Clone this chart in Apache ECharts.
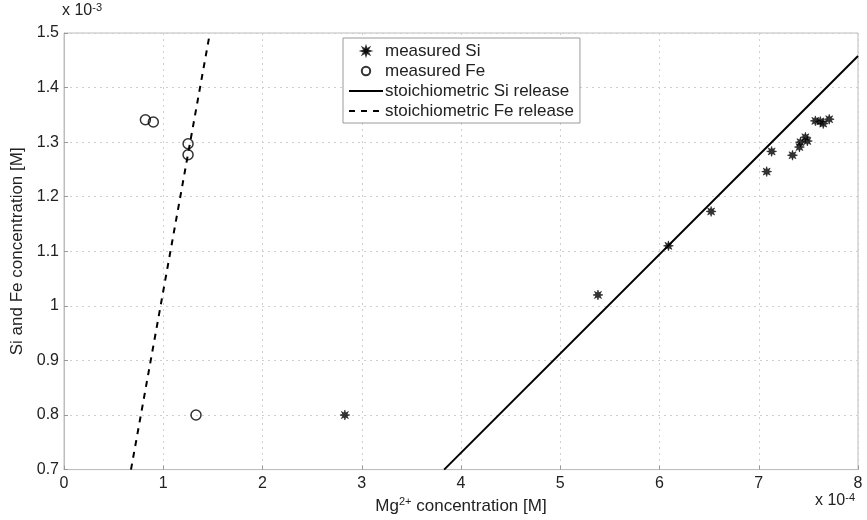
<!DOCTYPE html>
<html><head><meta charset="utf-8">
<script src="https://cdn.jsdelivr.net/npm/echarts@6/dist/echarts.min.js"></script>
<style>html,body{margin:0;padding:0;background:#fff}#c{width:867px;height:520px}</style>
</head><body><div id="c"></div>
<script>
// Data (x in units of 1e-4 M, y in units of 1e-3 M)
var siX = [2.83, 5.38, 6.09, 6.52, 7.08, 7.13, 7.34, 7.41, 7.42, 7.47, 7.49, 7.57, 7.62, 7.65, 7.71];
var siY = [0.80, 1.02, 1.11, 1.173, 1.246, 1.283, 1.276, 1.291, 1.300, 1.309, 1.302, 1.339, 1.338, 1.334, 1.342];
var feX = [0.82, 0.90, 1.25, 1.25, 1.33];
var feY = [1.341, 1.337, 1.297, 1.277, 0.80];
var siLineX = [3.83, 8.0];
var siLineY = [0.70, 1.458];
var feLineX = [0.675, 1.47];
var feLineY = [0.70, 1.50];
var xTicks = [0, 1, 2, 3, 4, 5, 6, 7, 8];
var yTicks = [0.7, 0.8, 0.9, 1.0, 1.1, 1.2, 1.3, 1.4, 1.5];

function zip(a, b) { return a.map(function (v, i) { return [v, b[i]]; }); }
function starPts(cx, cy, ro, ri) {
  var pts = [];
  for (var k = 0; k < 16; k++) {
    var ang = k * Math.PI / 8, r = (k % 2 === 0) ? ro : ri;
    pts.push((cx + r * Math.cos(ang)).toFixed(2) + ' ' + (cy + r * Math.sin(ang)).toFixed(2));
  }
  return 'M' + pts.join(' L') + ' Z';
}
var starPath = 'path://' + starPts(10, 10, 10, 4.6);
// legend icons: same shapes with empty margin (moveTo points enlarge the box)
var starLegend = 'path://M0 0 M20 20 ' + starPts(10, 10, 6.5, 3);
var circLegend = 'path://M0 0 M20 20 M17 10 A7 7 0 1 1 3 10 A7 7 0 1 1 17 10 Z';

var font = 'Liberation Sans, Arial, Helvetica, sans-serif';
var txt = '#222';
var chart = echarts.init(document.getElementById('c'));
chart.setOption({
  animation: false,
  textStyle: { fontFamily: font },
  grid: { left: 64, right: 9, top: 33, bottom: 49, show: true, borderColor: '#bdbdbd', borderWidth: 1 },
  legend: {
    left: 343, top: 38, orient: 'vertical', itemGap: 2, itemWidth: 34, itemHeight: 12,
    padding: [4, 6, 3, 5], symbolKeepAspect: true,
    borderColor: '#9a9a9a', borderWidth: 1, backgroundColor: '#fff',
    textStyle: { fontFamily: font, fontSize: 17, color: txt, lineHeight: 18, padding: [0, 0, 0, -3] },
    data: [
      { name: 'measured Si', icon: starLegend },
      { name: 'measured Fe', icon: circLegend },
      { name: 'stoichiometric Si release', itemStyle: { opacity: 0 } },
      { name: 'stoichiometric Fe release', itemStyle: { opacity: 0 } }
    ]
  },
  xAxis: {
    type: 'value', min: xTicks[0], max: xTicks[xTicks.length - 1], interval: 1,
    axisLine: { show: true, lineStyle: { color: '#bdbdbd' } },
    axisTick: { inside: true, length: 4, lineStyle: { color: '#999' } },
    axisLabel: { color: txt, fontSize: 16, margin: 6 },
    splitLine: { show: true, lineStyle: { type: [2, 4], color: '#cfcfcf' } },
    name: '{n|Mg}{s|2+}{n| concentration [M]}', nameLocation: 'middle', nameGap: 26,
    nameTextStyle: { rich: { n: { fontSize: 17, color: txt, fontFamily: font }, s: { fontSize: 11, color: txt, verticalAlign: 'bottom', padding: [0, 0, 9, 0], fontFamily: font } } }
  },
  yAxis: {
    type: 'value', min: yTicks[0], max: yTicks[yTicks.length - 1], interval: 0.1,
    axisLine: { show: true, lineStyle: { color: '#bdbdbd' } },
    axisTick: { inside: true, length: 4, lineStyle: { color: '#999' } },
    axisLabel: { color: txt, fontSize: 16, margin: 5, formatter: function (v) { return String(Math.round(v * 10) / 10); } },
    splitLine: { show: true, lineStyle: { type: [2, 4], color: '#cfcfcf' } },
    name: 'Si and Fe concentration [M]', nameLocation: 'middle', nameGap: 36,
    nameTextStyle: { fontSize: 17, color: txt }
  },
  graphic: [
    { type: 'text', left: 62, top: 2, style: { text: '{n|x 10}{s|-3}', rich: { n: { fontSize: 16, fill: txt, fontFamily: font, padding: [6, 0, 0, 0] }, s: { fontSize: 11, fill: txt, fontFamily: font } } } },
    { type: 'text', left: 815, top: 492, style: { text: '{n|x 10}{s|-4}', rich: { n: { fontSize: 16, fill: txt, fontFamily: font, padding: [6, 0, 0, 0] }, s: { fontSize: 11, fill: txt, fontFamily: font } } } }
  ],
  series: [
    { name: 'measured Si', type: 'scatter', data: zip(siX, siY), symbol: starPath, symbolSize: 10,
      itemStyle: { color: '#000', borderColor: '#000', borderWidth: 0.6 }, z: 5 },
    { name: 'measured Fe', type: 'scatter', data: zip(feX, feY), symbol: 'circle', symbolSize: 10,
      itemStyle: { color: 'rgba(255,255,255,0)', borderColor: '#000', borderWidth: 1.5 }, z: 5 },
    { name: 'stoichiometric Si release', type: 'line', data: zip(siLineX, siLineY), symbol: 'none', clip: true,
      lineStyle: { color: '#000', width: 2 }, itemStyle: { color: '#000', opacity: 0 } },
    { name: 'stoichiometric Fe release', type: 'line', data: zip(feLineX, feLineY), symbol: 'none', clip: true,
      lineStyle: { color: '#000', width: 2, type: [6, 6] }, itemStyle: { color: '#000', opacity: 0 } }
  ]
});
</script></body></html>
